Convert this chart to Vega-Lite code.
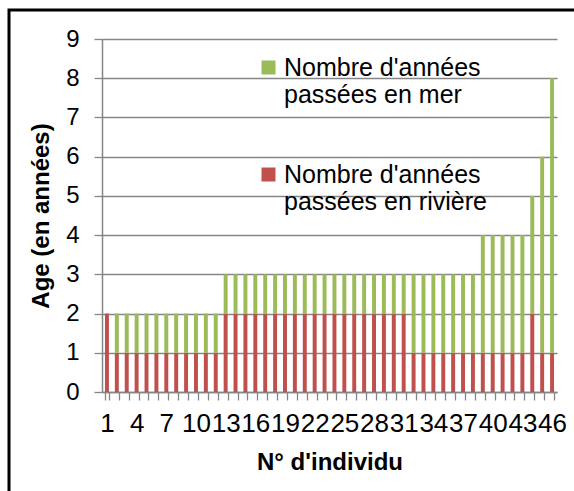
{
 "$schema": "https://vega.github.io/schema/vega-lite/v6.json",
 "width": 568, "height": 484,
 "autosize": {"type": "none"},
 "padding": {"left": 9, "top": 10, "right": -3, "bottom": -3},
 "background": "white",
 "config": {"view": {"stroke": "black", "strokeWidth": 3}, "font": "Liberation Sans"},
 "datasets": {
  "ages": [
   {"individu":1,"type":"Nombre d'années passées en rivière","annees":2},{"individu":1,"type":"Nombre d'années passées en mer","annees":0},
   {"individu":2,"type":"Nombre d'années passées en rivière","annees":1},{"individu":2,"type":"Nombre d'années passées en mer","annees":1},
   {"individu":3,"type":"Nombre d'années passées en rivière","annees":1},{"individu":3,"type":"Nombre d'années passées en mer","annees":1},
   {"individu":4,"type":"Nombre d'années passées en rivière","annees":1},{"individu":4,"type":"Nombre d'années passées en mer","annees":1},
   {"individu":5,"type":"Nombre d'années passées en rivière","annees":1},{"individu":5,"type":"Nombre d'années passées en mer","annees":1},
   {"individu":6,"type":"Nombre d'années passées en rivière","annees":1},{"individu":6,"type":"Nombre d'années passées en mer","annees":1},
   {"individu":7,"type":"Nombre d'années passées en rivière","annees":1},{"individu":7,"type":"Nombre d'années passées en mer","annees":1},
   {"individu":8,"type":"Nombre d'années passées en rivière","annees":1},{"individu":8,"type":"Nombre d'années passées en mer","annees":1},
   {"individu":9,"type":"Nombre d'années passées en rivière","annees":1},{"individu":9,"type":"Nombre d'années passées en mer","annees":1},
   {"individu":10,"type":"Nombre d'années passées en rivière","annees":1},{"individu":10,"type":"Nombre d'années passées en mer","annees":1},
   {"individu":11,"type":"Nombre d'années passées en rivière","annees":1},{"individu":11,"type":"Nombre d'années passées en mer","annees":1},
   {"individu":12,"type":"Nombre d'années passées en rivière","annees":1},{"individu":12,"type":"Nombre d'années passées en mer","annees":1},
   {"individu":13,"type":"Nombre d'années passées en rivière","annees":2},{"individu":13,"type":"Nombre d'années passées en mer","annees":1},
   {"individu":14,"type":"Nombre d'années passées en rivière","annees":2},{"individu":14,"type":"Nombre d'années passées en mer","annees":1},
   {"individu":15,"type":"Nombre d'années passées en rivière","annees":2},{"individu":15,"type":"Nombre d'années passées en mer","annees":1},
   {"individu":16,"type":"Nombre d'années passées en rivière","annees":2},{"individu":16,"type":"Nombre d'années passées en mer","annees":1},
   {"individu":17,"type":"Nombre d'années passées en rivière","annees":2},{"individu":17,"type":"Nombre d'années passées en mer","annees":1},
   {"individu":18,"type":"Nombre d'années passées en rivière","annees":2},{"individu":18,"type":"Nombre d'années passées en mer","annees":1},
   {"individu":19,"type":"Nombre d'années passées en rivière","annees":2},{"individu":19,"type":"Nombre d'années passées en mer","annees":1},
   {"individu":20,"type":"Nombre d'années passées en rivière","annees":2},{"individu":20,"type":"Nombre d'années passées en mer","annees":1},
   {"individu":21,"type":"Nombre d'années passées en rivière","annees":2},{"individu":21,"type":"Nombre d'années passées en mer","annees":1},
   {"individu":22,"type":"Nombre d'années passées en rivière","annees":2},{"individu":22,"type":"Nombre d'années passées en mer","annees":1},
   {"individu":23,"type":"Nombre d'années passées en rivière","annees":2},{"individu":23,"type":"Nombre d'années passées en mer","annees":1},
   {"individu":24,"type":"Nombre d'années passées en rivière","annees":2},{"individu":24,"type":"Nombre d'années passées en mer","annees":1},
   {"individu":25,"type":"Nombre d'années passées en rivière","annees":2},{"individu":25,"type":"Nombre d'années passées en mer","annees":1},
   {"individu":26,"type":"Nombre d'années passées en rivière","annees":2},{"individu":26,"type":"Nombre d'années passées en mer","annees":1},
   {"individu":27,"type":"Nombre d'années passées en rivière","annees":2},{"individu":27,"type":"Nombre d'années passées en mer","annees":1},
   {"individu":28,"type":"Nombre d'années passées en rivière","annees":2},{"individu":28,"type":"Nombre d'années passées en mer","annees":1},
   {"individu":29,"type":"Nombre d'années passées en rivière","annees":2},{"individu":29,"type":"Nombre d'années passées en mer","annees":1},
   {"individu":30,"type":"Nombre d'années passées en rivière","annees":2},{"individu":30,"type":"Nombre d'années passées en mer","annees":1},
   {"individu":31,"type":"Nombre d'années passées en rivière","annees":2},{"individu":31,"type":"Nombre d'années passées en mer","annees":1},
   {"individu":32,"type":"Nombre d'années passées en rivière","annees":1},{"individu":32,"type":"Nombre d'années passées en mer","annees":2},
   {"individu":33,"type":"Nombre d'années passées en rivière","annees":1},{"individu":33,"type":"Nombre d'années passées en mer","annees":2},
   {"individu":34,"type":"Nombre d'années passées en rivière","annees":1},{"individu":34,"type":"Nombre d'années passées en mer","annees":2},
   {"individu":35,"type":"Nombre d'années passées en rivière","annees":1},{"individu":35,"type":"Nombre d'années passées en mer","annees":2},
   {"individu":36,"type":"Nombre d'années passées en rivière","annees":1},{"individu":36,"type":"Nombre d'années passées en mer","annees":2},
   {"individu":37,"type":"Nombre d'années passées en rivière","annees":1},{"individu":37,"type":"Nombre d'années passées en mer","annees":2},
   {"individu":38,"type":"Nombre d'années passées en rivière","annees":1},{"individu":38,"type":"Nombre d'années passées en mer","annees":2},
   {"individu":39,"type":"Nombre d'années passées en rivière","annees":1},{"individu":39,"type":"Nombre d'années passées en mer","annees":3},
   {"individu":40,"type":"Nombre d'années passées en rivière","annees":1},{"individu":40,"type":"Nombre d'années passées en mer","annees":3},
   {"individu":41,"type":"Nombre d'années passées en rivière","annees":1},{"individu":41,"type":"Nombre d'années passées en mer","annees":3},
   {"individu":42,"type":"Nombre d'années passées en rivière","annees":1},{"individu":42,"type":"Nombre d'années passées en mer","annees":3},
   {"individu":43,"type":"Nombre d'années passées en rivière","annees":1},{"individu":43,"type":"Nombre d'années passées en mer","annees":3},
   {"individu":44,"type":"Nombre d'années passées en rivière","annees":2},{"individu":44,"type":"Nombre d'années passées en mer","annees":3},
   {"individu":45,"type":"Nombre d'années passées en rivière","annees":1},{"individu":45,"type":"Nombre d'années passées en mer","annees":5},
   {"individu":46,"type":"Nombre d'années passées en rivière","annees":1},{"individu":46,"type":"Nombre d'années passées en mer","annees":7}
  ]
 },
 "data": {"name": "ages"},
 "mark": {"type": "bar"},
 "encoding": {
  "x": {
   "field": "individu", "type": "ordinal",
   "scale": {"range": [93, 548], "paddingInner": 0.6, "paddingOuter": 0.3},
   "axis": {
    "title": "N° d'individu", "offset": -102, "tickBand": "extent",
    "labelExpr": "(datum.value - 1) % 3 == 0 ? datum.label : ''",
    "labelAngle": 0, "labelOverlap": false, "labelFont": "Liberation Sans", "labelFontSize": 26, "labelColor": "black", "labelPadding": 10,
    "domainColor": "#868686", "domainWidth": 1.5, "tickColor": "#868686", "tickWidth": 1.3, "tickSize": 8,
    "titleFont": "Liberation Sans", "titleFontSize": 24, "titleFontWeight": "bold", "titleColor": "black", "titlePadding": 14
   }
  },
  "y": {
   "field": "annees", "type": "quantitative", "stack": "zero",
   "scale": {"domain": [0, 9], "range": [382, 29], "nice": false},
   "axis": {
    "title": "Age (en années)", "offset": -93, "values": [0,1,2,3,4,5,6,7,8,9],
    "grid": true, "gridColor": "#868686", "gridWidth": 1.3,
    "domainColor": "#868686", "domainWidth": 1.5, "tickColor": "#868686", "tickWidth": 1.3, "tickSize": 8,
    "labelFont": "Liberation Sans", "labelFontSize": 24, "labelColor": "black", "labelPadding": 15,
    "titleFont": "Liberation Sans", "titleFontSize": 24, "titleFontWeight": "bold", "titleColor": "black", "titlePadding": 12
   }
  },
  "color": {
   "field": "type", "type": "nominal",
   "scale": {"domain": ["Nombre d'années passées en mer", "Nombre d'années passées en rivière"], "range": ["#9BBB59", "#C0504D"]},
   "legend": {
    "orient": "none", "legendX": 247, "legendY": 45, "title": null, "padding": 0,
    "symbolType": "square", "symbolSize": 196, "symbolStrokeWidth": 0,
    "labelFont": "Liberation Sans", "labelFontSize": 25, "labelColor": "black", "labelOffset": 3, "labelLimit": 0,
    "labelExpr": "[substring(datum.label, 0, 15), substring(datum.label, 16)]",
    "rowPadding": 54
   }
  },
  "order": {"field": "type", "sort": "descending"}
 }
}
